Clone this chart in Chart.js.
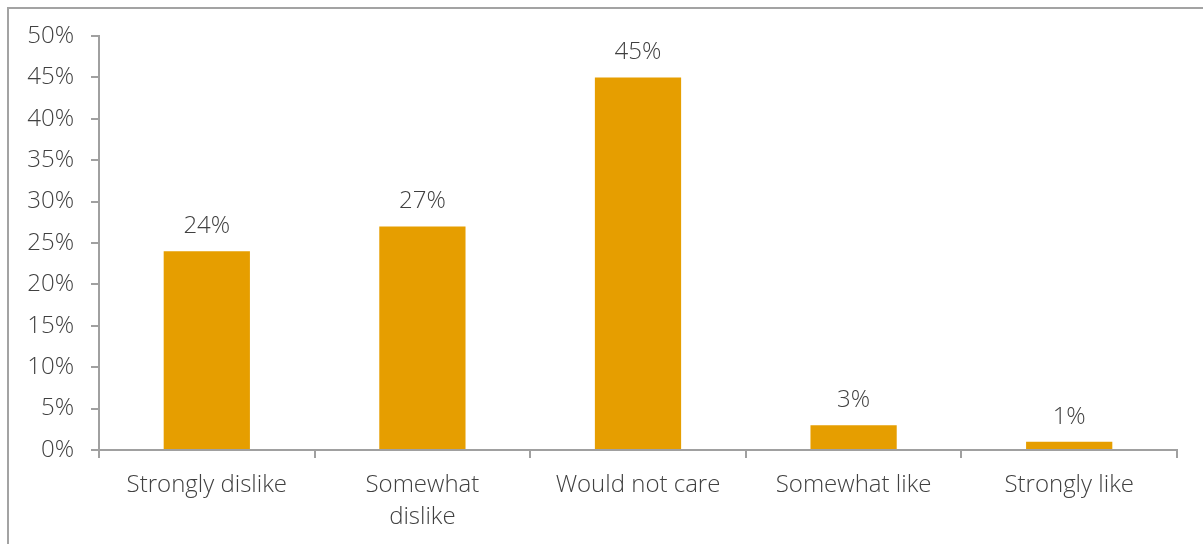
<!DOCTYPE html>
<html>
<head>
<meta charset="utf-8">
<script src="https://cdn.jsdelivr.net/npm/chart.js@4"></script>
<style>
  html, body { margin: 0; padding: 0; background: #fff; }
  #wrap { position: relative; width: 1203px; height: 544px; overflow: hidden; }
  #frame { position: absolute; left: 7px; top: 7px; width: 1300px; height: 700px; border: 2px solid #a3a3a3; box-sizing: border-box; }
  #chart { position: absolute; left: 0; top: 0; }
</style>
</head>
<body>
<div id="wrap">
  <div id="frame"></div>
  <canvas id="chart" width="1203" height="544"></canvas>
</div>
<script>
// survey answers and their shares (%)
const categories = ["Strongly dislike", ["Somewhat", "dislike"], "Would not care", "Somewhat like", "Strongly like"];
const shares = [24, 27, 45, 3, 1];
const yMax = 50;
const yStep = 5;

const textColor = '#404040';
const axisColor = '#a0a0a0';
const fontFamily = '"Open Sans", sans-serif';

// draws the value above every bar
const barLabels = {
  id: 'barLabels',
  afterDatasetsDraw(chart) {
    const ctx = chart.ctx;
    const meta = chart.getDatasetMeta(0);
    ctx.save();
    ctx.fillStyle = textColor;
    ctx.font = '300 24px ' + fontFamily;
    ctx.textAlign = 'center';
    ctx.textBaseline = 'alphabetic';
    meta.data.forEach((bar, i) => {
      ctx.fillText(shares[i] + '%', bar.x, bar.y - 18);
    });
    ctx.restore();
  }
};

new Chart(document.getElementById('chart'), {
  type: 'bar',
  data: {
    labels: categories,
    datasets: [{
      data: shares,
      backgroundColor: '#e69e00',
      barPercentage: 0.4,
      categoryPercentage: 1.0
    }]
  },
  options: {
    responsive: false,
    animation: false,
    layout: { padding: { top: 36, right: 26, left: 0, bottom: 0 } },
    plugins: {
      legend: { display: false },
      tooltip: { enabled: false }
    },
    scales: {
      x: {
        grid: { offset: true, drawOnChartArea: false, tickLength: 8, color: axisColor, lineWidth: 2 },
        border: { color: axisColor, width: 2 },
        ticks: { color: textColor, font: { family: fontFamily, size: 24, weight: 300, lineHeight: 1.3 }, padding: 12, maxRotation: 0, autoSkip: false },
        afterFit(scale) { scale.height = 94; }
      },
      y: {
        min: 0,
        max: yMax,
        grid: { drawOnChartArea: false, tickLength: 8, color: axisColor, lineWidth: 2 },
        border: { color: axisColor, width: 2 },
        ticks: {
          stepSize: yStep,
          color: textColor,
          font: { family: fontFamily, size: 24, weight: 300 },
          padding: 17,
          callback: v => v + '%'
        },
        afterFit(scale) { scale.width = 99; }
      }
    }
  },
  plugins: [barLabels]
});
</script>
</body>
</html>
